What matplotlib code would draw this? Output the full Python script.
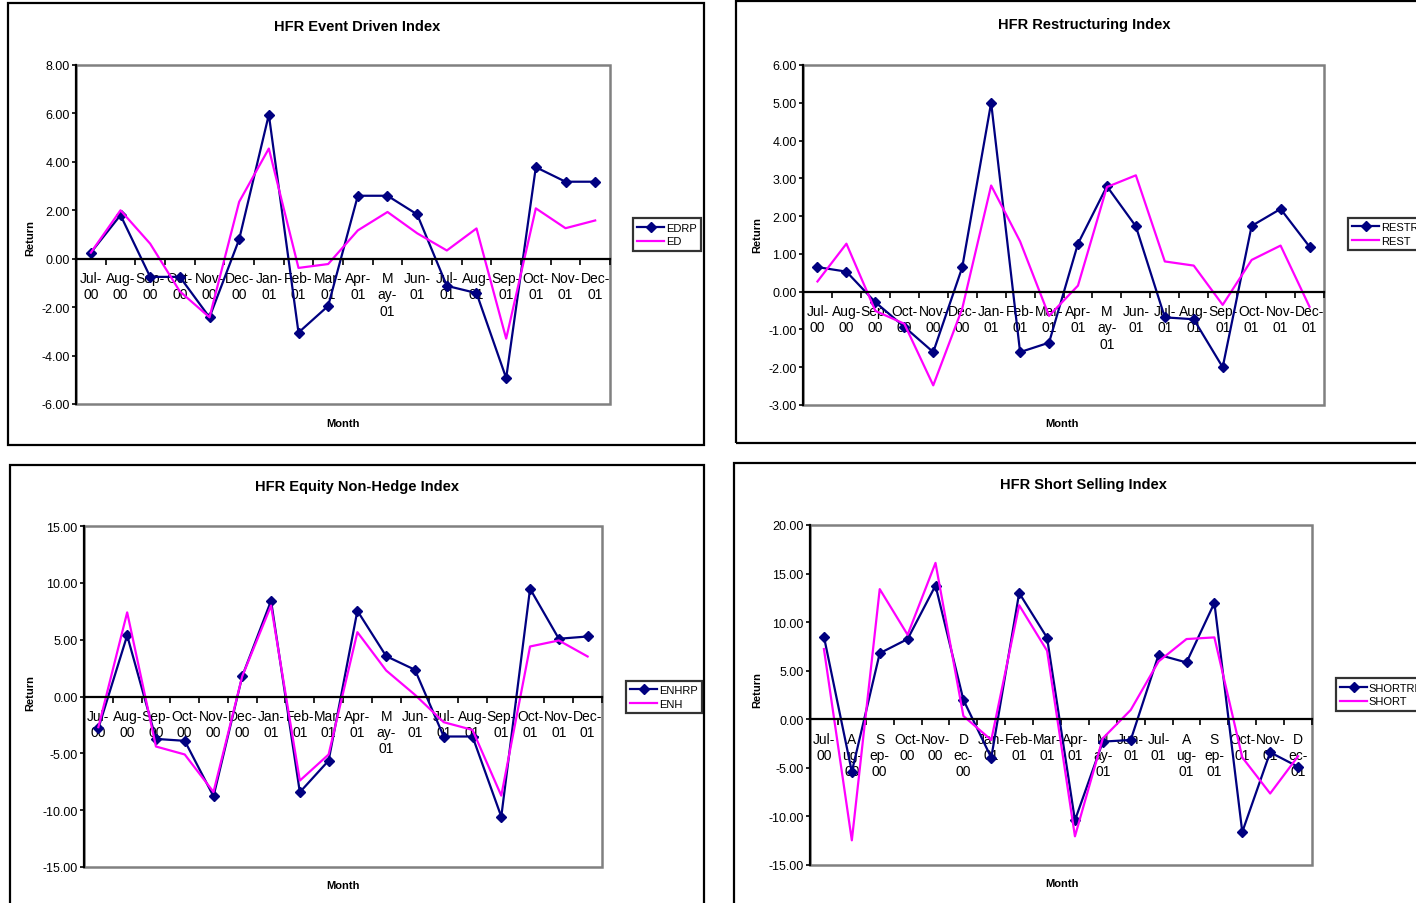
import matplotlib.pyplot as plt
from matplotlib.patches import Rectangle

plt.rcParams['font.family'] = ['Liberation Sans', 'DejaVu Sans']

W, H = 1416, 904

# month labels as Excel wrapped them
months = ['Jul-\n00', 'Aug-\n00', 'Sep-\n00', 'Oct-\n00', 'Nov-\n00', 'Dec-\n00',
          'Jan-\n01', 'Feb-\n01', 'Mar-\n01', 'Apr-\n01', 'M\nay-\n01', 'Jun-\n01',
          'Jul-\n01', 'Aug-\n01', 'Sep-\n01', 'Oct-\n01', 'Nov-\n01', 'Dec-\n01']
months_short = ['Jul-\n00', 'A\nug-\n00', 'S\nep-\n00', 'Oct-\n00', 'Nov-\n00', 'D\nec-\n00',
                'Jan-\n01', 'Feb-\n01', 'Mar-\n01', 'Apr-\n01', 'M\nay-\n01', 'Jun-\n01',
                'Jul-\n01', 'A\nug-\n01', 'S\nep-\n01', 'Oct-\n01', 'Nov-\n01', 'D\nec-\n01']

edrp = [0.25, 1.8, -0.75, -0.75, -2.42, 0.8, 5.95, -3.05, -1.95, 2.6, 2.6, 1.83,
        -1.12, -1.42, -4.93, 3.78, 3.18, 3.18]
ed = [0.25, 2.0, 0.62, -1.35, -2.42, 2.35, 4.55, -0.38, -0.22, 1.17, 1.93, 1.05,
      0.34, 1.25, -3.3, 2.08, 1.26, 1.58]

restrp = [0.65, 0.53, -0.28, -0.93, -1.6, 0.64, 5.0, -1.6, -1.35, 1.27, 2.79, 1.73,
          -0.68, -0.73, -2.0, 1.74, 2.19, 1.19]
rest = [0.27, 1.27, -0.51, -0.85, -2.48, -0.45, 2.81, 1.33, -0.64, 0.16, 2.77, 3.08,
        0.8, 0.69, -0.35, 0.84, 1.22, -0.4]

enhrp = [-2.79, 5.37, -3.73, -3.9, -8.78, 1.79, 8.42, -8.42, -5.64, 7.54, 3.55, 2.35,
         -3.52, -3.52, -10.57, 9.48, 5.08, 5.28]
enh = [-2.7, 7.4, -4.4, -5.1, -8.4, 1.79, 8.0, -7.4, -5.1, 5.66, 2.29, 0.15,
       -2.26, -2.94, -8.72, 4.4, 4.93, 3.52]

shortrp = [8.5, -5.4, 6.8, 8.26, 13.77, 2.0, -3.96, 13.0, 8.4, -10.4, -2.3, -2.13,
           6.64, 5.85, 11.98, -11.6, -3.4, -4.89]
short = [7.23, -12.46, 13.4, 8.7, 16.1, 0.34, -2.13, 11.74, 7.06, -12.05, -1.96, 0.96,
         5.96, 8.26, 8.43, -3.92, -7.64, -3.8]

panels = [
    dict(title='HFR Event Driven Index', a=edrp, b=ed, names=('EDRP', 'ED'),
         labels=months, ylim=(-6, 8), step=2,
         box=(8, 4, 704, 446), ax=(76, 66, 610, 405),
         tt=(357, 27), rl=(30, 238), ml=(343, 424), lg=(633, 235.5)),
    dict(title='HFR Restructuring Index', a=restrp, b=rest, names=('RESTRP', 'REST'),
         labels=months, ylim=(-3, 6), step=1,
         box=(736, 2, 1440, 444), ax=(803, 66, 1324, 406),
         tt=(1084, 25), rl=(757, 235), ml=(1062, 424), lg=(1348, 235)),
    dict(title='HFR Equity Non-Hedge Index', a=enhrp, b=enh, names=('ENHRP', 'ENH'),
         labels=months, ylim=(-15, 15), step=5,
         box=(10, 466, 704, 930), ax=(84, 527, 602, 868),
         tt=(357, 487), rl=(30, 693), ml=(343, 886), lg=(626, 698)),
    dict(title='HFR Short Selling Index', a=shortrp, b=short, names=('SHORTRP', 'SHORT'),
         labels=months_short, ylim=(-15, 20), step=5,
         box=(734, 464, 1440, 930), ax=(810, 526, 1312, 866),
         tt=(1083, 485), rl=(757, 690), ml=(1062, 884), lg=(1336, 695.5)),
]

fig = plt.figure(figsize=(W / 100, H / 100), dpi=100)

def fx(x):
    return x / W

def fy(y):
    return 1 - y / H

navy = '#000080'
pink = '#FF00FF'

for p in panels:
    l, t, r, b = p['box']
    fig.add_artist(Rectangle((fx(l), fy(b)), fx(r - l), (b - t) / H, transform=fig.transFigure,
                             fill=False, edgecolor='black', linewidth=1.6))
    l, t, r, b = p['ax']
    ax = fig.add_axes([fx(l), fy(b), fx(r - l), (b - t) / H])
    x = list(range(len(p['labels'])))
    ax.plot(x, p['a'], color=navy, linewidth=1.6, marker='D', markersize=5, label=p['names'][0])
    ax.plot(x, p['b'], color=pink, linewidth=1.6, label=p['names'][1])
    ax.set_xlim(-0.5, len(x) - 0.5)
    ax.set_ylim(*p['ylim'])

    yt = list(range(p['ylim'][0], p['ylim'][1] + 1, p['step']))
    ax.set_yticks(yt)
    ax.set_yticklabels(['%.2f' % v for v in yt], fontsize=9)
    ax.tick_params(axis='y', direction='out', length=3, width=1.2, pad=1.5)

    ax.set_xticks([i - 0.5 for i in range(len(x) + 1)])
    ax.set_xticklabels([])
    ax.set_xticks(x, minor=True)
    ax.set_xticklabels(p['labels'], minor=True, fontsize=8, linespacing=1.2)
    ax.tick_params(axis='x', which='major', direction='out', length=4, width=1.2)
    ax.tick_params(axis='x', which='minor', length=0, pad=9)

    for s in ['top', 'right']:
        ax.spines[s].set_visible(False)
    ax.spines['left'].set_color('black')
    ax.spines['left'].set_linewidth(1.6)
    ax.spines['bottom'].set_position(('data', 0))
    ax.spines['bottom'].set_color('black')
    ax.spines['bottom'].set_linewidth(1.6)
    ax.add_patch(Rectangle((0, 0), 1, 1, transform=ax.transAxes, fill=False,
                           edgecolor='#808080', linewidth=1.8, clip_on=False, zorder=0.5))

    fig.text(fx(p['tt'][0]), fy(p['tt'][1]), p['title'], ha='center', va='center',
             fontsize=10.5, fontweight='bold')
    fig.text(fx(p['rl'][0]), fy(p['rl'][1]), 'Return', ha='center', va='center',
             rotation=90, fontsize=8, fontweight='bold')
    fig.text(fx(p['ml'][0]), fy(p['ml'][1]), 'Month', ha='center', va='center',
             fontsize=8, fontweight='bold')

    leg = ax.legend(loc='center left', bbox_to_anchor=(fx(p['lg'][0]), fy(p['lg'][1])),
                    bbox_transform=fig.transFigure, fontsize=8, frameon=True,
                    fancybox=False, borderpad=0.4, handlelength=2.4, handletextpad=0.15,
                    labelspacing=0.35, borderaxespad=0)
    leg.get_frame().set_edgecolor('black')
    leg.get_frame().set_linewidth(1.6)

fig.savefig('out.png', dpi=100)
